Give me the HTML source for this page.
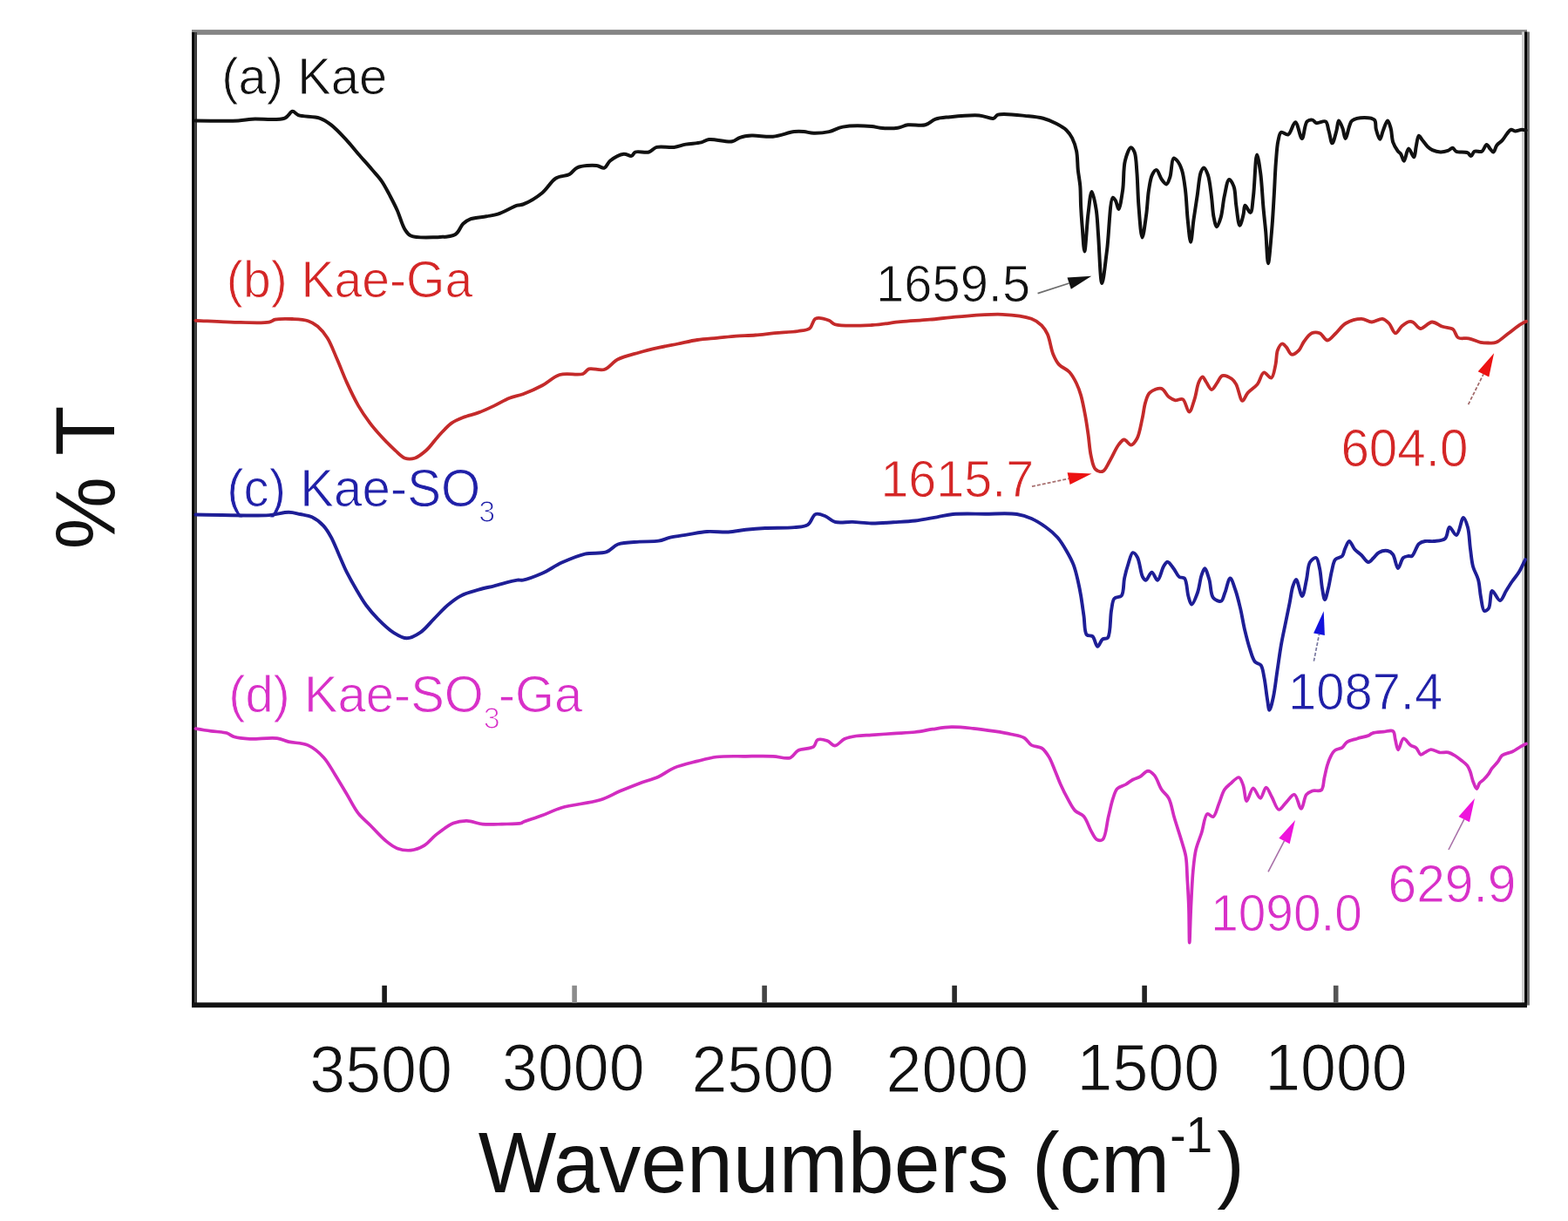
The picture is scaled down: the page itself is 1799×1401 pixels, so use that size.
<!DOCTYPE html>
<html><head><meta charset="utf-8"><title>FTIR spectra</title>
<style>html,body{margin:0;padding:0;background:#fff;}svg{display:block;filter:blur(0.6px);}</style>
</head><body>
<svg width="1799" height="1401" viewBox="0 0 1799 1401"><rect width="1799" height="1401" fill="#fff"/>
<rect x="220" y="34.1" width="1532" height="5.8" fill="#858585"/>
<rect x="220.1" y="37" width="3" height="1119" fill="#000"/>
<rect x="223.1" y="37" width="2.9" height="1119" fill="#3c3c3c"/>
<rect x="1746" y="36.5" width="3.1" height="1117" fill="#cfcfcf"/>
<rect x="1749.1" y="36.5" width="2.9" height="1119" fill="#000"/>
<rect x="1752" y="36.5" width="2.9" height="1117" fill="#6a6a6a"/>
<rect x="220.1" y="1150.3" width="1531.9" height="5.8" fill="#111"/>
<rect x="438.3" y="1130.8" width="5.6" height="20" fill="#1a1a1a"/>
<rect x="656.3" y="1130.8" width="5.6" height="20" fill="#8c8c8c"/>
<rect x="874.3" y="1130.8" width="5.6" height="20" fill="#444"/>
<rect x="1092.3" y="1130.8" width="5.6" height="20" fill="#2a2a2a"/>
<rect x="1310.3" y="1130.8" width="5.6" height="20" fill="#222"/>
<rect x="1529.9" y="1130.8" width="5.6" height="20" fill="#555"/>
<text transform="translate(355.36,1252.50) scale(0.9662,1)" font-family="'Liberation Sans', Arial, sans-serif" font-size="76.07" fill="#111" stroke="#fff" stroke-width="1.0">3500</text>
<text transform="translate(576.06,1250.50) scale(0.9662,1)" font-family="'Liberation Sans', Arial, sans-serif" font-size="76.07" fill="#111" stroke="#fff" stroke-width="1.0">3000</text>
<text transform="translate(793.43,1252.50) scale(0.9662,1)" font-family="'Liberation Sans', Arial, sans-serif" font-size="76.07" fill="#111" stroke="#fff" stroke-width="1.0">2500</text>
<text transform="translate(1016.53,1252.50) scale(0.9662,1)" font-family="'Liberation Sans', Arial, sans-serif" font-size="76.07" fill="#111" stroke="#fff" stroke-width="1.0">2000</text>
<text transform="translate(1235.52,1250.50) scale(0.9662,1)" font-family="'Liberation Sans', Arial, sans-serif" font-size="76.07" fill="#111" stroke="#fff" stroke-width="1.0">1500</text>
<text transform="translate(1451.22,1251.00) scale(0.9662,1)" font-family="'Liberation Sans', Arial, sans-serif" font-size="76.07" fill="#111" stroke="#fff" stroke-width="1.0">1000</text>
<text transform="translate(548.8,1368) scale(0.9662,1)" font-family="'Liberation Sans', Arial, sans-serif" font-size="98.32" fill="#111">Wavenumbers (cm<tspan font-size="56.92" dy="-45.6">-1</tspan><tspan dy="45.6" dx="5.3">)</tspan></text>
<text transform="translate(131,630.14) rotate(-90) scale(0.9662,1)" font-family="'Liberation Sans', Arial, sans-serif" font-size="96.67" fill="#111">% T</text>
<text transform="translate(254.33,108.20) scale(0.9662,1)" font-family="'Liberation Sans', Arial, sans-serif" font-size="59.93" fill="#111" stroke="#fff" stroke-width="0.9">(a) Kae</text>
<text transform="translate(259.87,340.50) scale(0.9662,1)" font-family="'Liberation Sans', Arial, sans-serif" font-size="59.10" fill="#d42626" stroke="#fff" stroke-width="0.9">(b) Kae-Ga</text>
<text transform="translate(260.21,580.50) scale(0.9662,1)" font-family="'Liberation Sans', Arial, sans-serif" font-size="60.24" fill="#2020a8" stroke="#fff" stroke-width="0.9">(c) Kae-SO</text>
<text transform="translate(549.34,599.00) scale(0.9662,1)" font-family="'Liberation Sans', Arial, sans-serif" font-size="35.19" fill="#2020a8" stroke="#fff" stroke-width="1.2">3</text>
<text transform="translate(262.13,816.50) scale(0.9662,1)" font-family="'Liberation Sans', Arial, sans-serif" font-size="59.93" fill="#d830c8" stroke="#fff" stroke-width="0.9">(d) Kae-SO</text>
<text transform="translate(554.84,835.50) scale(0.9662,1)" font-family="'Liberation Sans', Arial, sans-serif" font-size="35.19" fill="#d830c8" stroke="#fff" stroke-width="1.2">3</text>
<text transform="translate(571.68,816.50) scale(0.9662,1)" font-family="'Liberation Sans', Arial, sans-serif" font-size="59.93" fill="#d830c8" stroke="#fff" stroke-width="0.9">-Ga</text>
<text transform="translate(1005.07,346.40) scale(0.9662,1)" font-family="'Liberation Sans', Arial, sans-serif" font-size="59.93" fill="#111" stroke="#fff" stroke-width="0.9">1659.5</text>
<text transform="translate(1010.40,570.00) scale(0.9662,1)" font-family="'Liberation Sans', Arial, sans-serif" font-size="59.51" fill="#d42626" stroke="#fff" stroke-width="0.9">1615.7</text>
<text transform="translate(1538.38,534.70) scale(0.9662,1)" font-family="'Liberation Sans', Arial, sans-serif" font-size="60.44" fill="#d42626" stroke="#fff" stroke-width="0.9">604.0</text>
<text transform="translate(1478.07,814.00) scale(0.9662,1)" font-family="'Liberation Sans', Arial, sans-serif" font-size="59.93" fill="#2020a8" stroke="#fff" stroke-width="0.9">1087.4</text>
<text transform="translate(1389.16,1067.90) scale(0.9662,1)" font-family="'Liberation Sans', Arial, sans-serif" font-size="58.79" fill="#d830c8" stroke="#fff" stroke-width="0.9">1090.0</text>
<text transform="translate(1592.57,1035.10) scale(0.9662,1)" font-family="'Liberation Sans', Arial, sans-serif" font-size="60.75" fill="#d830c8" stroke="#fff" stroke-width="0.9">629.9</text>
<path d="M224.4,138.5 C240.7,138.5 261.6,139.2 273.4,138.5 C280.1,138.1 282.7,137.2 289.0,136.7 C298.8,136.0 318.8,138.7 326.7,135.6 C331.1,133.9 332.8,128.0 335.6,127.8 C337.9,127.6 339.2,131.0 342.3,132.2 C347.7,134.2 360.0,133.3 366.7,135.6 C372.0,137.4 375.5,139.9 380.0,143.4 C385.8,147.9 392.5,155.3 397.9,161.1 C402.8,166.4 406.6,171.3 411.2,176.7 C416.2,182.5 422.1,189.0 426.8,194.5 C430.8,199.2 434.6,203.0 437.9,207.8 C441.3,212.7 443.9,218.0 446.8,223.4 C449.8,229.1 452.9,234.9 455.7,241.2 C458.8,248.1 461.3,258.3 464.6,263.4 C466.7,266.7 467.9,268.9 471.3,270.5 C477.0,273.2 489.3,272.6 498.0,272.3 C506.3,272.0 516.7,272.4 522.4,269.0 C526.9,266.3 528.0,259.9 531.3,256.8 C534.0,254.2 536.6,252.6 540.2,251.2 C545.0,249.4 552.5,249.3 558.0,248.3 C562.8,247.4 566.4,247.2 571.3,245.6 C577.9,243.5 588.2,237.2 593.5,235.6 C596.2,234.8 597.3,235.5 600.0,234.5 C605.3,232.5 615.8,226.4 622.2,221.2 C628.2,216.3 632.1,208.0 637.8,204.5 C642.6,201.5 649.1,202.3 653.4,200.0 C657.0,198.0 658.3,194.0 662.3,192.3 C667.8,189.9 678.8,189.5 684.5,190.0 C688.2,190.4 690.9,193.5 693.4,192.7 C696.1,191.9 697.0,186.9 700.0,184.5 C703.9,181.4 711.0,177.2 715.6,176.7 C718.9,176.3 722.2,179.5 724.5,178.9 C726.4,178.4 726.8,175.4 729.0,174.5 C732.4,173.1 740.2,175.7 744.5,174.5 C748.0,173.5 749.6,170.0 753.4,168.9 C758.6,167.4 767.4,169.6 773.4,168.9 C778.4,168.3 782.0,166.5 786.8,165.6 C792.3,164.6 799.8,164.6 804.6,163.4 C808.1,162.5 809.6,160.5 813.4,160.0 C819.8,159.1 833.7,163.5 840.1,162.3 C844.0,161.5 845.6,158.9 849.0,157.8 C852.9,156.5 857.3,155.9 862.4,155.6 C869.3,155.2 878.7,157.4 886.8,156.7 C895.0,156.0 904.7,151.8 911.3,151.1 C915.7,150.6 918.7,150.8 922.4,151.1 C926.1,151.4 929.4,152.6 933.5,152.7 C938.7,152.8 945.6,152.3 951.3,151.1 C956.7,149.9 960.6,146.7 966.9,145.6 C975.8,144.0 992.2,144.4 1000.0,145.0 C1004.3,145.3 1006.1,146.4 1010.0,146.7 C1015.5,147.2 1024.3,147.5 1030.0,146.7 C1034.5,146.1 1037.2,143.9 1041.7,143.3 C1047.4,142.5 1056.1,144.8 1061.7,143.3 C1066.3,142.1 1069.0,138.2 1073.4,136.7 C1078.3,135.0 1083.5,134.9 1090.0,134.2 C1099.2,133.3 1114.2,131.8 1123.4,132.5 C1129.9,133.0 1136.2,136.7 1140.0,135.8 C1142.3,135.2 1142.3,132.6 1145.0,131.7 C1151.2,129.6 1170.5,132.4 1180.0,133.3 C1186.6,133.9 1191.4,134.4 1196.8,135.8 C1202.0,137.2 1207.2,139.4 1211.8,141.7 C1216.0,143.9 1220.3,146.2 1223.4,149.2 C1226.2,151.9 1228.2,154.8 1230.1,158.4 C1232.3,162.7 1234.0,167.9 1235.1,173.4 C1236.4,179.9 1236.1,188.1 1236.8,195.0 C1237.5,201.4 1238.7,206.9 1239.3,213.4 C1239.9,220.7 1239.7,228.8 1240.1,236.7 C1240.5,244.9 1241.1,253.2 1241.8,261.7 C1242.5,270.5 1243.4,288.4 1244.3,288.4 C1245.5,288.4 1246.9,257.5 1248.5,245.0 C1249.7,235.5 1251.0,220.1 1252.6,220.0 C1254.1,219.9 1256.4,232.6 1257.6,240.0 C1259.1,248.9 1259.2,258.5 1260.1,270.0 C1261.3,285.6 1262.4,325.0 1264.3,325.1 C1265.9,325.2 1268.2,301.0 1270.1,286.8 C1272.4,269.0 1273.4,227.8 1276.8,226.7 C1277.8,226.4 1279.0,228.8 1280.0,230.4 C1281.4,232.7 1282.3,240.0 1283.4,239.9 C1285.0,239.8 1286.9,226.3 1288.1,218.2 C1289.6,208.2 1288.6,193.2 1290.9,184.3 C1292.5,178.1 1295.4,169.5 1297.6,169.3 C1299.0,169.1 1300.6,172.1 1301.7,174.8 C1303.6,179.7 1303.7,189.2 1304.4,197.8 C1305.3,208.9 1305.4,223.3 1306.4,235.8 C1307.4,248.1 1308.9,272.3 1310.5,272.4 C1311.9,272.4 1314.0,254.4 1315.3,245.3 C1316.5,236.3 1316.7,226.2 1318.0,218.2 C1319.1,211.6 1319.9,204.5 1322.0,200.5 C1323.3,198.0 1325.2,194.9 1326.8,195.1 C1328.9,195.3 1330.7,203.1 1332.9,206.0 C1334.6,208.3 1336.8,211.6 1338.3,211.4 C1340.0,211.1 1341.2,206.7 1342.4,203.2 C1344.2,197.8 1344.1,182.5 1346.5,181.5 C1347.6,181.0 1349.2,182.8 1350.5,184.3 C1352.5,186.6 1354.5,190.7 1356.0,195.1 C1358.0,201.2 1358.9,209.7 1360.0,218.2 C1361.3,228.4 1361.6,241.6 1362.7,252.1 C1363.7,261.3 1365.0,277.8 1366.1,277.8 C1367.2,277.8 1368.3,260.8 1369.5,252.1 C1370.8,243.2 1372.2,234.0 1373.6,224.9 C1375.0,215.9 1375.7,203.3 1377.7,197.8 C1378.7,195.2 1379.8,192.4 1381.0,192.4 C1382.5,192.4 1384.5,196.9 1385.8,200.5 C1387.9,206.3 1388.8,216.7 1389.9,224.9 C1391.0,233.0 1391.2,242.9 1392.6,249.4 C1393.5,253.8 1394.7,260.1 1396.0,260.2 C1397.4,260.3 1399.4,253.8 1400.7,249.4 C1402.6,243.0 1403.1,232.5 1404.8,224.9 C1406.3,218.1 1408.0,206.2 1410.2,205.9 C1411.8,205.7 1414.3,210.5 1415.6,214.1 C1417.6,219.4 1417.2,228.5 1418.3,235.8 C1419.4,243.4 1420.8,258.7 1422.4,258.8 C1423.6,258.9 1425.5,250.6 1426.5,246.6 C1427.5,242.9 1427.1,236.1 1428.5,235.8 C1429.9,235.5 1433.1,244.3 1434.6,243.9 C1436.7,243.4 1437.0,232.7 1438.0,224.9 C1439.6,212.7 1440.3,177.6 1442.1,177.5 C1443.3,177.4 1445.0,189.8 1446.1,197.8 C1447.7,209.0 1448.4,226.3 1449.5,238.5 C1450.4,248.5 1451.3,255.9 1452.2,265.6 C1453.2,276.9 1453.9,302.2 1455.0,302.2 C1456.1,302.2 1457.9,278.1 1459.0,265.6 C1460.2,252.4 1460.9,238.2 1461.7,224.9 C1462.5,212.0 1462.9,198.4 1463.8,187.0 C1464.6,177.6 1465.0,167.6 1466.5,161.2 C1467.4,157.2 1467.8,152.7 1469.9,151.7 C1471.8,150.8 1475.6,155.3 1478.0,154.4 C1481.3,153.1 1483.7,140.0 1486.2,140.2 C1489.0,140.4 1491.6,159.0 1493.8,158.9 C1496.0,158.8 1496.6,142.4 1499.6,139.4 C1501.3,137.7 1504.0,137.2 1505.8,137.6 C1507.5,137.9 1508.3,140.6 1510.2,141.1 C1512.9,141.8 1518.5,138.0 1520.9,139.4 C1523.3,140.9 1523.3,146.2 1524.5,150.0 C1525.9,154.4 1527.0,164.3 1528.5,164.3 C1530.0,164.3 1532.1,154.5 1533.4,150.0 C1534.5,146.0 1534.7,138.7 1536.0,138.5 C1537.2,138.4 1539.3,144.2 1540.5,147.4 C1541.8,150.9 1542.4,158.9 1543.6,158.9 C1545.0,158.9 1547.0,147.5 1548.5,143.8 C1549.4,141.5 1549.5,139.9 1551.2,138.5 C1553.9,136.3 1560.9,134.9 1565.4,134.9 C1569.5,134.9 1574.8,135.2 1577.0,137.6 C1579.1,139.8 1577.8,144.7 1578.8,148.3 C1579.8,152.1 1581.8,159.8 1583.2,159.8 C1584.5,159.8 1585.4,153.4 1586.8,150.0 C1588.3,146.3 1590.5,138.5 1592.1,138.5 C1593.5,138.5 1594.7,143.9 1595.7,147.4 C1597.0,151.9 1596.7,158.8 1598.3,163.4 C1599.6,167.2 1601.9,170.8 1603.7,173.2 C1604.9,174.8 1606.1,175.2 1607.2,176.7 C1608.6,178.7 1609.5,184.7 1610.8,184.7 C1612.5,184.6 1614.0,170.7 1616.1,170.5 C1617.9,170.3 1620.9,180.6 1622.3,180.3 C1623.8,180.0 1623.8,172.2 1624.7,168.2 C1625.6,164.1 1626.3,156.1 1627.8,155.8 C1628.9,155.6 1630.3,158.7 1631.7,160.5 C1633.5,162.7 1635.8,166.2 1637.9,168.2 C1639.7,169.9 1641.1,171.1 1643.3,172.1 C1645.9,173.3 1649.6,174.4 1652.7,174.5 C1655.6,174.6 1658.7,173.8 1661.2,172.9 C1663.3,172.1 1665.1,169.6 1666.7,169.8 C1668.2,170.0 1668.7,172.8 1670.6,173.7 C1673.6,175.1 1680.8,173.9 1683.8,175.3 C1685.7,176.2 1686.5,179.2 1687.7,179.1 C1689.1,179.0 1689.7,174.7 1691.6,173.7 C1693.7,172.6 1697.9,174.9 1700.2,173.7 C1702.6,172.4 1703.9,166.0 1705.6,165.9 C1707.0,165.8 1708.2,169.1 1709.5,170.6 C1710.8,172.0 1712.2,174.7 1713.4,174.5 C1714.9,174.3 1715.6,168.9 1717.3,166.7 C1719.0,164.5 1721.6,163.3 1723.5,161.2 C1725.5,158.9 1727.2,155.7 1729.0,153.5 C1730.5,151.7 1731.9,149.2 1733.6,148.8 C1735.1,148.5 1736.5,150.3 1738.3,150.4 C1740.6,150.5 1743.8,148.8 1746.1,148.8 C1747.8,148.8 1749.2,149.3 1750.7,149.6" fill="none" stroke="#111" stroke-width="4.0" stroke-linejoin="round" stroke-linecap="round"/>
<path d="M224.4,367.8 C237.8,368.4 250.8,369.3 264.5,369.6 C278.9,369.9 300.7,371.3 308.9,369.6 C312.2,368.9 312.7,367.4 315.6,366.7 C320.4,365.6 329.1,365.7 335.6,366.0 C341.7,366.3 348.3,366.5 353.4,368.2 C357.7,369.6 361.0,371.6 364.5,374.5 C368.5,377.9 372.2,382.4 375.6,387.8 C379.8,394.5 383.1,403.9 386.8,412.3 C390.6,421.0 393.9,430.1 397.9,438.9 C402.0,447.9 406.5,457.5 411.2,465.6 C415.4,472.9 420.0,479.5 424.6,485.6 C428.9,491.3 433.2,496.1 437.9,501.2 C442.8,506.5 448.6,512.4 453.5,516.8 C457.4,520.3 460.6,524.3 464.6,525.7 C468.1,526.9 472.0,526.8 475.7,525.7 C480.1,524.4 484.8,520.5 489.0,516.8 C493.8,512.6 497.7,506.3 502.4,501.2 C507.3,495.9 512.6,489.4 517.9,485.6 C522.3,482.5 526.4,480.9 531.3,479.0 C536.7,476.8 543.2,475.6 549.1,473.4 C555.1,471.2 561.0,468.4 566.9,465.6 C572.8,462.8 578.8,459.0 584.6,456.7 C589.8,454.7 594.5,454.3 600.0,452.3 C606.8,449.8 615.1,446.1 622.2,442.3 C629.2,438.6 634.7,432.3 642.2,430.0 C650.2,427.6 663.2,431.1 668.9,428.9 C672.2,427.7 672.6,424.4 675.6,423.4 C679.9,421.9 687.9,425.7 693.4,424.0 C699.1,422.2 702.9,415.4 709.0,412.3 C716.0,408.7 725.4,406.8 733.4,404.5 C740.9,402.3 748.2,400.6 755.6,398.9 C763.0,397.2 770.5,396.0 777.9,394.5 C785.3,393.0 792.7,391.1 800.1,390.0 C807.5,388.9 814.9,388.5 822.3,387.8 C829.7,387.1 837.2,386.2 844.6,385.6 C852.0,385.1 859.4,385.1 866.8,384.5 C874.2,383.9 881.3,382.9 889.0,382.2 C897.5,381.4 908.4,381.2 915.7,380.0 C921.0,379.1 925.7,379.2 929.1,376.7 C932.3,374.3 932.3,367.2 935.7,365.6 C939.4,363.8 947.3,366.3 951.3,367.8 C954.1,368.9 954.6,371.1 958.0,372.2 C965.8,374.6 986.8,373.6 1000.0,373.0 C1011.8,372.4 1022.2,370.3 1033.3,369.2 C1044.4,368.2 1055.6,367.7 1066.7,366.7 C1077.8,365.7 1087.8,364.2 1100.0,363.3 C1115.0,362.2 1135.1,360.1 1150.1,360.8 C1162.4,361.4 1175.4,362.8 1183.4,365.8 C1188.6,367.7 1192.0,370.2 1195.1,373.3 C1198.0,376.2 1199.8,379.2 1201.8,383.4 C1204.6,389.4 1205.7,400.4 1208.4,406.7 C1210.4,411.4 1212.1,415.1 1215.1,418.4 C1218.2,421.8 1223.5,423.2 1226.8,426.7 C1230.2,430.3 1232.9,435.4 1235.1,440.0 C1237.2,444.4 1238.6,448.3 1240.1,453.4 C1242.0,460.0 1243.7,469.1 1245.1,476.7 C1246.5,484.0 1247.4,490.9 1248.5,498.4 C1249.7,506.4 1250.1,516.2 1251.8,523.4 C1253.1,529.1 1253.9,535.6 1256.8,538.4 C1258.9,540.5 1262.6,541.8 1265.1,540.9 C1268.4,539.7 1270.7,533.0 1273.5,528.4 C1276.8,522.9 1280.2,514.3 1283.5,510.1 C1285.6,507.5 1287.5,504.6 1289.8,504.5 C1292.3,504.4 1295.2,510.8 1297.7,510.6 C1300.1,510.4 1302.6,506.7 1304.5,503.3 C1307.4,498.0 1308.9,487.4 1310.6,480.1 C1312.1,473.6 1312.5,467.0 1314.2,461.7 C1315.5,457.5 1316.3,453.3 1319.1,450.7 C1322.2,447.8 1328.9,444.8 1332.6,445.8 C1336.1,446.7 1338.1,453.3 1341.1,455.6 C1343.5,457.4 1345.9,458.9 1348.5,459.3 C1351.2,459.7 1354.6,456.9 1357.0,458.1 C1360.3,459.8 1362.1,472.8 1364.4,472.7 C1366.6,472.6 1368.7,463.4 1370.5,458.1 C1372.5,452.1 1373.3,443.1 1375.4,438.5 C1376.7,435.7 1378.3,432.4 1379.7,432.4 C1381.1,432.4 1382.4,436.3 1384.0,438.5 C1385.9,441.1 1388.0,446.9 1390.1,447.0 C1392.1,447.1 1394.2,442.3 1396.2,439.7 C1398.3,437.0 1399.6,432.0 1402.3,431.1 C1405.2,430.2 1410.6,432.9 1413.3,434.8 C1415.6,436.4 1416.6,438.1 1418.2,440.9 C1420.8,445.3 1422.9,459.6 1425.5,459.9 C1427.4,460.1 1429.0,453.7 1431.6,450.7 C1434.6,447.3 1439.6,444.7 1442.7,440.9 C1445.8,437.0 1447.0,428.2 1450.0,427.5 C1452.5,426.9 1456.4,434.3 1458.6,433.6 C1461.2,432.7 1462.2,424.0 1463.4,418.9 C1464.7,413.5 1464.2,406.2 1465.9,401.8 C1467.1,398.7 1469.0,394.8 1470.8,394.5 C1472.3,394.2 1474.1,396.5 1475.7,398.1 C1477.8,400.2 1479.3,406.2 1481.8,406.7 C1484.2,407.2 1488.0,404.1 1490.3,401.8 C1492.8,399.3 1493.7,395.1 1496.0,392.0 C1498.5,388.6 1501.7,383.8 1505.0,382.3 C1507.8,381.1 1511.2,381.2 1514.0,382.3 C1517.3,383.6 1520.0,390.4 1523.0,390.5 C1526.0,390.6 1528.9,385.9 1532.0,383.0 C1535.8,379.5 1539.2,373.9 1544.0,371.0 C1549.1,368.0 1556.6,365.8 1562.0,365.8 C1566.4,365.8 1570.0,369.5 1574.0,369.5 C1578.0,369.5 1582.6,365.3 1586.0,365.8 C1588.9,366.2 1591.3,368.6 1593.6,371.0 C1596.4,373.9 1598.4,382.1 1601.0,382.3 C1603.4,382.5 1605.8,376.3 1608.6,374.0 C1611.3,371.8 1615.1,369.0 1617.6,368.8 C1619.3,368.6 1620.4,369.4 1622.0,370.3 C1624.3,371.6 1626.6,376.7 1629.6,377.0 C1633.3,377.4 1638.6,369.7 1643.0,369.5 C1647.1,369.3 1650.9,373.4 1655.0,374.8 C1658.9,376.2 1664.0,375.6 1667.0,377.8 C1669.9,379.9 1670.1,385.7 1673.0,387.5 C1676.0,389.3 1680.9,387.5 1685.0,388.3 C1689.4,389.2 1694.5,392.0 1698.6,392.8 C1701.9,393.5 1704.6,393.5 1707.6,393.5 C1710.6,393.5 1713.5,394.0 1716.6,392.8 C1720.8,391.2 1725.4,386.4 1730.0,383.0 C1734.9,379.4 1741.0,374.2 1745.0,371.8 C1747.4,370.3 1749.0,369.8 1751.0,368.8" fill="none" stroke="#c42a2a" stroke-width="3.8" stroke-linejoin="round" stroke-linecap="round"/>
<path d="M224.4,590.5 C252.6,590.7 289.8,592.4 308.9,591.1 C318.8,590.4 324.7,587.7 331.2,587.8 C336.2,587.8 340.1,589.1 344.5,590.0 C349.0,590.9 353.6,591.3 357.9,593.3 C362.6,595.5 367.5,599.4 371.2,603.4 C374.8,607.3 377.3,611.7 380.1,616.7 C383.3,622.6 386.0,630.0 389.0,636.7 C392.0,643.4 394.6,650.1 397.9,656.7 C401.3,663.4 405.2,670.3 409.0,676.7 C412.6,682.9 416.0,688.9 420.1,694.5 C424.2,700.0 428.5,705.1 433.5,710.1 C438.8,715.5 445.2,721.8 451.2,725.6 C456.3,728.8 461.6,732.3 466.8,732.3 C472.0,732.3 477.5,728.9 482.4,725.6 C488.0,721.8 492.7,715.3 497.9,710.1 C503.1,704.9 508.1,699.1 513.5,694.5 C518.5,690.2 523.3,686.3 529.1,683.4 C535.1,680.3 542.6,678.6 549.1,676.7 C555.2,674.9 560.4,673.9 566.9,672.3 C574.9,670.3 587.6,666.3 593.5,665.6 C596.4,665.2 597.2,666.1 600.0,665.6 C605.3,664.7 614.9,661.0 622.2,657.8 C629.8,654.4 636.6,649.2 644.5,645.6 C652.9,641.8 662.4,637.6 671.2,635.6 C679.4,633.7 688.9,635.8 695.6,633.4 C701.0,631.5 703.6,626.5 709.0,624.5 C715.7,622.0 725.4,622.2 733.4,621.6 C741.0,621.0 749.2,621.8 755.6,620.7 C760.7,619.9 764.0,617.8 769.0,616.7 C775.0,615.3 782.2,614.5 789.0,613.4 C796.2,612.3 803.6,610.5 811.2,610.0 C819.1,609.5 828.0,610.9 835.7,610.5 C842.7,610.1 848.8,608.5 855.7,607.8 C862.9,607.0 869.7,606.4 877.9,606.0 C887.9,605.5 902.3,606.1 911.3,605.1 C917.5,604.4 922.7,604.8 926.8,602.2 C930.8,599.7 932.0,591.4 935.7,590.0 C938.9,588.7 943.3,590.8 946.9,592.2 C950.7,593.7 953.6,597.7 958.0,598.9 C963.5,600.4 971.2,598.7 978.0,598.9 C985.2,599.2 992.4,600.4 1000.0,600.5 C1008.1,600.6 1016.7,599.7 1025.0,599.2 C1033.3,598.7 1041.7,598.5 1050.0,597.5 C1058.4,596.5 1067.3,594.6 1075.0,593.3 C1081.6,592.2 1086.2,590.7 1093.4,590.0 C1103.5,589.1 1117.9,589.7 1130.1,589.7 C1142.3,589.7 1157.0,588.5 1166.8,590.0 C1173.5,591.0 1178.0,592.6 1183.4,595.0 C1189.1,597.5 1195.0,601.3 1200.1,605.0 C1205.0,608.5 1209.5,612.3 1213.4,616.7 C1217.3,621.2 1220.4,626.5 1223.4,631.7 C1226.5,637.0 1229.6,642.6 1231.8,648.4 C1234.0,654.3 1235.4,660.7 1236.8,666.7 C1238.1,672.4 1239.1,677.4 1240.1,683.4 C1241.3,690.5 1242.4,699.1 1243.5,706.7 C1244.6,714.1 1243.9,725.2 1246.8,728.4 C1248.5,730.2 1251.6,728.6 1253.5,730.1 C1256.1,732.2 1257.2,741.7 1259.3,741.8 C1261.1,741.9 1262.8,735.0 1265.1,733.4 C1266.9,732.1 1269.5,733.5 1271.0,731.7 C1274.5,727.6 1273.5,708.4 1275.1,700.1 C1276.1,694.7 1276.1,689.4 1278.5,686.7 C1280.4,684.5 1284.8,685.8 1286.8,683.4 C1289.7,679.7 1288.7,669.7 1290.1,663.4 C1291.3,657.6 1292.8,652.1 1294.5,647.0 C1296.0,642.4 1297.6,634.6 1299.7,634.2 C1301.3,633.9 1303.5,636.8 1305.0,639.5 C1307.7,644.2 1308.6,657.8 1311.0,662.0 C1312.1,664.0 1313.3,665.8 1314.7,665.7 C1316.7,665.6 1319.2,656.7 1321.5,656.7 C1323.7,656.7 1326.1,665.9 1328.2,665.7 C1330.7,665.4 1332.7,653.7 1335.0,650.0 C1336.5,647.6 1337.8,644.7 1339.5,644.7 C1341.7,644.7 1344.7,650.1 1347.0,653.0 C1349.2,655.9 1350.6,660.3 1353.0,662.0 C1354.8,663.3 1357.4,661.9 1359.0,663.5 C1361.9,666.6 1361.8,679.0 1363.5,684.5 C1364.6,688.2 1365.7,693.4 1367.2,693.5 C1369.1,693.6 1372.2,685.0 1374.0,680.0 C1376.1,674.2 1376.7,665.6 1378.4,660.5 C1379.6,657.1 1380.9,652.2 1382.2,652.2 C1383.8,652.2 1385.9,660.1 1387.4,665.0 C1389.3,671.1 1388.7,682.1 1392.0,686.0 C1394.2,688.6 1398.8,690.6 1401.0,689.7 C1403.3,688.8 1403.9,683.7 1405.4,680.0 C1407.3,675.3 1409.3,663.6 1411.4,663.5 C1413.3,663.4 1415.6,671.9 1417.4,677.0 C1419.7,683.4 1421.6,691.9 1423.4,699.4 C1425.1,706.9 1426.2,714.4 1427.9,721.9 C1429.7,729.4 1431.7,737.7 1433.9,744.4 C1435.7,750.0 1437.2,756.3 1439.9,759.4 C1441.8,761.6 1444.9,761.0 1446.6,763.2 C1448.9,766.2 1449.3,771.9 1450.4,777.4 C1451.9,784.6 1452.9,796.0 1454.1,802.9 C1454.9,807.7 1455.4,814.8 1456.4,814.9 C1457.6,815.0 1459.6,805.8 1460.9,799.9 C1462.7,791.7 1463.9,779.9 1465.4,769.9 C1466.9,759.9 1468.3,749.2 1469.9,739.9 C1471.3,731.8 1472.8,725.1 1474.4,717.4 C1476.1,709.2 1478.0,699.9 1479.6,692.0 C1481.0,685.1 1481.7,677.4 1483.4,672.5 C1484.5,669.3 1485.8,664.9 1487.1,665.0 C1489.2,665.1 1492.0,684.1 1494.0,684.0 C1496.0,683.9 1497.5,671.4 1499.0,665.0 C1500.5,658.4 1500.3,649.2 1503.0,645.0 C1504.8,642.3 1508.2,639.4 1510.0,640.0 C1512.2,640.7 1512.9,647.3 1514.0,652.0 C1515.5,658.4 1515.8,668.4 1517.0,675.0 C1517.9,680.0 1518.8,688.0 1520.0,688.0 C1521.2,688.0 1522.8,679.8 1524.0,675.0 C1525.5,669.1 1526.5,660.9 1528.0,655.0 C1529.2,650.2 1529.6,644.8 1532.0,642.0 C1534.0,639.7 1538.2,640.0 1540.0,638.0 C1541.8,636.0 1541.8,632.7 1543.0,630.0 C1544.4,627.0 1546.2,621.1 1548.0,621.0 C1549.9,620.9 1551.7,627.3 1554.0,630.0 C1556.3,632.7 1559.4,634.5 1562.0,637.0 C1564.7,639.5 1567.5,644.9 1570.0,645.0 C1572.1,645.1 1574.0,641.8 1576.0,640.0 C1578.0,638.1 1579.5,635.3 1582.0,634.0 C1584.7,632.5 1589.2,631.4 1592.0,632.0 C1594.4,632.5 1596.3,633.8 1598.0,636.0 C1600.7,639.3 1601.9,651.9 1604.0,652.0 C1605.9,652.1 1607.5,642.2 1610.0,640.0 C1611.7,638.5 1614.2,638.3 1616.0,638.0 C1617.4,637.8 1618.7,638.8 1620.0,638.0 C1622.7,636.4 1624.9,626.8 1628.0,624.0 C1630.1,622.1 1632.4,621.5 1635.0,621.0 C1638.0,620.4 1641.5,621.4 1645.0,621.0 C1649.1,620.5 1655.0,620.6 1658.0,618.0 C1661.1,615.3 1660.7,605.4 1663.0,605.0 C1665.1,604.6 1668.6,614.4 1671.0,614.0 C1674.2,613.4 1676.6,594.1 1679.0,594.0 C1680.8,594.0 1682.7,600.5 1684.0,605.0 C1685.8,611.5 1685.9,622.1 1687.0,630.0 C1688.0,637.0 1688.3,643.9 1690.0,650.0 C1691.5,655.5 1694.5,659.5 1696.0,665.0 C1697.7,671.1 1697.7,678.7 1699.0,685.0 C1700.1,690.7 1700.7,700.1 1703.0,701.0 C1704.3,701.6 1706.7,699.9 1708.0,698.0 C1710.5,694.5 1709.4,678.6 1712.0,678.0 C1714.1,677.5 1718.3,689.2 1721.0,689.0 C1723.6,688.8 1725.7,681.7 1728.0,678.0 C1730.3,674.3 1732.5,670.6 1735.0,667.0 C1737.5,663.3 1740.6,660.0 1743.0,656.0 C1745.6,651.7 1747.7,646.7 1750.0,642.0" fill="none" stroke="#1e1e96" stroke-width="3.9" stroke-linejoin="round" stroke-linecap="round"/>
<path d="M224.4,836.0 C230.3,837.0 236.3,838.0 242.2,838.9 C248.1,839.7 255.2,839.6 260.0,841.1 C263.6,842.2 265.3,844.5 268.9,845.6 C273.7,847.1 279.9,847.5 286.7,847.8 C295.6,848.2 309.7,846.0 317.8,847.1 C323.3,847.8 326.1,849.9 331.2,851.1 C337.6,852.6 346.7,852.1 353.4,855.1 C360.1,858.1 366.1,863.4 371.2,868.9 C376.5,874.6 380.1,882.0 384.5,888.9 C389.0,896.1 393.4,903.8 397.9,911.2 C402.3,918.6 406.3,927.2 411.2,933.4 C415.4,938.7 419.8,941.9 424.6,946.7 C430.1,952.2 436.6,959.8 442.3,964.5 C446.9,968.3 450.8,971.6 455.7,973.4 C460.5,975.2 466.2,976.1 471.3,975.6 C476.5,975.1 482.1,972.9 486.8,970.1 C491.8,967.1 495.1,961.9 500.2,957.9 C506.1,953.3 513.7,947.1 520.2,944.5 C525.5,942.4 530.4,941.7 535.7,941.8 C541.4,941.9 547.2,944.9 553.5,945.6 C560.5,946.3 568.4,945.8 575.8,945.6 C583.2,945.4 594.6,945.5 598.0,944.5 C599.1,944.2 598.9,943.9 600.0,943.4 C603.4,941.9 614.8,938.4 622.2,935.6 C629.7,932.8 635.7,929.3 644.5,926.7 C656.6,923.1 676.8,921.7 688.9,917.8 C697.8,915.0 703.7,911.0 711.2,907.8 C718.6,904.7 726.0,901.7 733.4,898.9 C740.8,896.1 748.7,894.3 755.6,891.2 C762.0,888.3 766.7,883.9 773.4,881.1 C781.2,877.8 791.6,875.6 800.1,873.4 C807.8,871.4 814.1,869.5 822.3,868.5 C832.2,867.3 844.8,867.9 855.7,867.8 C866.3,867.7 877.6,867.4 886.8,867.8 C894.2,868.1 901.7,871.2 906.8,869.4 C910.7,868.0 911.9,863.2 915.7,861.1 C920.4,858.6 929.8,859.5 933.5,856.7 C936.1,854.7 935.6,850.1 938.0,848.9 C940.6,847.5 945.7,848.8 949.1,850.0 C952.4,851.1 954.9,855.7 958.0,855.6 C961.5,855.5 965.0,849.6 969.1,847.8 C973.2,845.9 977.6,845.2 982.4,844.5 C987.8,843.6 993.6,843.7 1000.0,843.3 C1007.6,842.8 1016.7,842.2 1025.0,841.7 C1033.3,841.1 1042.2,840.9 1050.0,840.0 C1057.1,839.2 1063.2,837.7 1070.0,836.7 C1077.1,835.7 1084.2,834.4 1091.7,834.2 C1099.7,834.0 1108.4,835.0 1116.7,835.8 C1125.0,836.6 1134.0,838.0 1141.7,839.2 C1148.3,840.2 1154.3,841.2 1160.1,842.5 C1165.4,843.7 1171.1,844.3 1175.1,846.7 C1178.6,848.7 1180.1,853.1 1183.4,855.0 C1186.8,857.0 1191.8,856.2 1195.1,858.4 C1198.5,860.6 1201.0,864.5 1203.4,868.4 C1206.1,872.7 1207.9,878.3 1210.1,883.4 C1212.4,888.8 1214.3,894.5 1216.8,900.0 C1219.3,905.6 1222.2,911.5 1225.1,916.7 C1227.8,921.5 1230.1,926.7 1233.4,930.1 C1236.3,933.1 1240.6,933.5 1243.5,936.7 C1247.1,940.7 1249.0,948.6 1251.8,953.4 C1254.0,957.2 1255.8,962.0 1258.5,963.4 C1260.5,964.5 1263.3,964.8 1265.1,963.4 C1268.9,960.5 1269.7,945.0 1271.8,936.7 C1273.6,929.6 1274.9,922.4 1276.8,916.7 C1278.3,912.2 1279.2,907.8 1281.8,905.0 C1284.3,902.4 1288.7,901.8 1291.8,900.0 C1294.7,898.3 1297.1,896.0 1299.9,894.5 C1302.6,893.1 1305.4,892.7 1308.1,891.2 C1311.1,889.5 1314.2,884.7 1317.1,884.6 C1319.7,884.6 1322.3,887.1 1324.5,889.6 C1327.7,893.3 1329.7,901.4 1332.7,906.0 C1335.2,909.9 1338.6,911.5 1340.9,915.8 C1344.0,921.6 1345.1,930.9 1347.5,938.8 C1350.0,947.3 1353.4,957.1 1355.7,965.1 C1357.6,971.7 1359.5,976.6 1360.6,983.2 C1361.8,990.7 1361.7,999.0 1362.2,1007.8 C1362.8,1017.9 1363.5,1029.0 1363.9,1040.6 C1364.4,1053.5 1364.3,1081.7 1364.7,1081.7 C1365.1,1081.7 1365.7,1054.3 1366.4,1040.6 C1367.1,1026.9 1367.7,1011.5 1368.8,999.6 C1369.7,990.3 1370.3,982.6 1372.1,974.9 C1373.7,967.9 1376.6,961.9 1378.7,955.2 C1380.9,948.3 1382.0,935.3 1385.2,933.9 C1387.1,933.1 1389.9,937.9 1391.8,937.2 C1394.6,936.2 1396.3,927.5 1398.4,922.4 C1400.6,917.1 1402.2,910.1 1404.9,906.0 C1406.8,903.1 1409.0,901.6 1411.5,899.4 C1414.4,896.9 1418.9,891.5 1421.4,892.0 C1423.7,892.5 1424.9,897.4 1426.3,901.0 C1428.1,905.9 1428.4,918.9 1430.4,919.1 C1432.3,919.3 1435.1,904.5 1437.8,904.3 C1440.3,904.1 1443.5,916.0 1446.0,915.8 C1448.5,915.6 1450.4,903.6 1452.6,903.5 C1454.7,903.4 1456.8,910.3 1459.1,914.2 C1461.7,918.7 1464.3,928.6 1467.3,929.0 C1469.8,929.4 1472.6,923.6 1475.5,920.8 C1478.6,917.8 1482.3,911.2 1485.1,911.7 C1488.3,912.3 1490.6,928.1 1492.9,928.0 C1495.2,927.9 1496.1,915.2 1498.9,911.7 C1500.8,909.3 1503.1,908.3 1505.7,907.4 C1508.7,906.4 1513.7,908.5 1516.0,906.5 C1518.7,904.2 1518.3,897.4 1519.4,892.8 C1520.5,888.0 1521.5,882.6 1522.8,878.3 C1523.9,874.8 1524.8,871.7 1526.3,868.8 C1527.7,866.0 1529.1,862.9 1531.4,861.1 C1533.7,859.2 1537.7,859.4 1540.0,857.7 C1542.2,856.2 1542.8,853.3 1545.1,851.7 C1548.1,849.6 1553.0,848.7 1557.1,847.4 C1561.3,846.1 1566.9,845.3 1570.0,844.0 C1571.9,843.2 1572.4,842.1 1574.3,841.4 C1577.4,840.3 1583.0,840.1 1587.1,839.7 C1591.0,839.3 1596.0,837.3 1598.3,838.9 C1600.4,840.4 1599.9,845.0 1600.8,848.3 C1601.8,852.1 1602.7,860.2 1604.2,860.3 C1605.8,860.4 1607.7,847.9 1610.3,847.4 C1612.6,847.0 1615.6,853.1 1618.3,855.0 C1620.5,856.6 1623.1,856.7 1625.0,858.4 C1627.1,860.2 1628.1,865.4 1630.0,865.9 C1631.5,866.3 1633.2,864.3 1635.0,863.4 C1637.1,862.4 1639.2,860.2 1641.7,860.0 C1644.7,859.8 1648.3,862.8 1651.7,863.4 C1655.0,863.9 1658.6,862.7 1661.7,863.4 C1664.7,864.1 1667.4,865.9 1670.0,867.5 C1672.4,869.0 1674.5,870.7 1676.7,872.5 C1679.0,874.3 1681.7,876.2 1683.4,878.4 C1684.9,880.4 1685.7,882.4 1686.7,885.0 C1688.0,888.3 1688.7,893.2 1690.1,896.7 C1691.3,899.8 1692.9,905.1 1694.2,905.1 C1695.4,905.1 1696.2,900.2 1697.6,898.4 C1698.8,896.9 1700.3,896.4 1701.7,895.0 C1703.6,893.2 1705.9,890.7 1707.6,888.4 C1709.2,886.2 1710.1,883.9 1711.8,881.7 C1713.7,879.2 1716.4,876.8 1718.4,874.2 C1720.3,871.8 1721.0,868.6 1723.4,866.7 C1726.3,864.5 1731.6,864.2 1735.1,862.5 C1738.2,861.0 1740.7,859.1 1743.4,857.5 C1746.0,856.0 1748.5,854.8 1751.0,853.4" fill="none" stroke="#d22cc0" stroke-width="3.7" stroke-linejoin="round" stroke-linecap="round"/>
<line x1="1190.6" y1="336.7" x2="1226.6" y2="325.0" stroke="#6e6e6e" stroke-width="1.8"/><polygon points="1252.3,316.7 1228.8,331.7 1224.5,318.4" fill="#111"/>
<line x1="1184.0" y1="558.2" x2="1226.1" y2="549.2" stroke="#a87070" stroke-width="1.7" stroke-dasharray="4,2"/><polygon points="1252.5,543.5 1227.6,556.0 1224.6,542.3" fill="#ec1212"/>
<line x1="1684.6" y1="464.1" x2="1702.0" y2="429.3" stroke="#a06868" stroke-width="1.7" stroke-dasharray="4,2"/><polygon points="1714.1,405.2 1708.3,432.5 1695.7,426.2" fill="#ec1212"/>
<line x1="1507.4" y1="758.7" x2="1513.5" y2="727.8" stroke="#7878a0" stroke-width="1.7" stroke-dasharray="4,2"/><polygon points="1518.7,701.3 1519.9,729.0 1507.1,726.5" fill="#1212dc"/>
<line x1="1455.0" y1="1000.4" x2="1473.5" y2="964.9" stroke="#a870a8" stroke-width="1.6"/><polygon points="1486.0,941.0 1479.7,968.2 1467.3,961.7" fill="#ee14dc"/>
<line x1="1662.0" y1="975.0" x2="1679.8" y2="940.1" stroke="#a870a8" stroke-width="1.6"/><polygon points="1692.0,916.0 1686.0,943.2 1673.5,936.9" fill="#ee14dc"/></svg>
</body></html>
